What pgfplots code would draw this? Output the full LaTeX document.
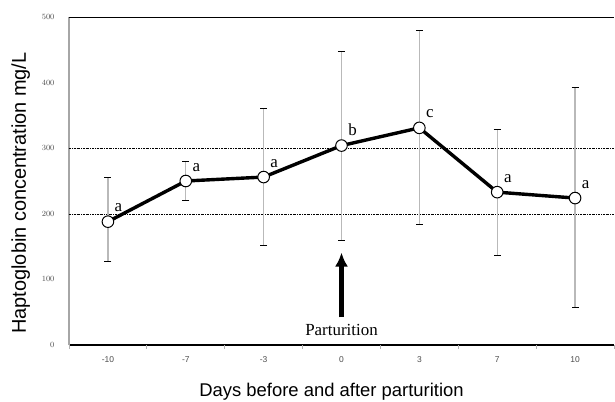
\documentclass[border=0pt]{standalone}
\usepackage{pgfplots}
\pgfplotsset{compat=1.18}
\usepackage{pgfplotstable}
\usetikzlibrary{arrows.meta}
\usepackage{fontspec}
\setmainfont{Liberation Serif}
\setsansfont{Liberation Sans}
\pgfplotstableread{
x y ep em lab
0 188 68 60 a
1 250 30 30 a
2 256 105 104 a
3 304 144 145 b
4 331 148 147 c
5 233 95 96 a
6 224 168 167 a
}\hapto
\begin{document}
\begin{tikzpicture}[x=1bp,y=1bp]
\useasboundingbox (-69bp,-57bp) rectangle (546bp,345bp);
\begin{axis}[
  at={(0,0)}, anchor=south west,
  scale only axis, width=545bp, height=328bp,
  xmin=-0.5, xmax=6.5, ymin=0, ymax=500,
  axis x line*=bottom, axis y line*=left,
  x axis line style={black, line width=1.8bp, -},
  y axis line style={gray!70, line width=1.5bp, -},
  xtick={0,...,6},
  xticklabels={-10,-7,-3,0,3,7,10},
  ytick={0,100,...,500},
  major tick length=0pt,
  tick label style={font=\sffamily\fontsize{8.5}{9}\selectfont, text=gray!60!black},
  xticklabel style={yshift=-8bp},
  yticklabel style={xshift=-11bp},
  extra x ticks={-0.5,0.5,1.5,2.5,3.5,4.5,5.5,6.5},
  extra x tick labels={},
  extra x tick style={major tick length=4bp, tick align=outside, tick style={gray!60, line width=0.8bp}},
  extra y ticks={200,300},
  extra y tick labels={},
  extra y tick style={grid=major, major grid style={black, line width=0.6bp, dash pattern=on 2bp off 1bp on 0.6bp off 1bp}},
  xlabel={\sffamily\fontsize{18.5}{20}\selectfont Days before and after parturition},
  ylabel={\sffamily\fontsize{20}{22}\selectfont Haptoglobin concentration mg/L},
  xlabel style={yshift=-10bp, xshift=-10bp},
  ylabel style={yshift=5bp, xshift=-12bp},
  clip=false,
]
\draw[black, line width=1bp] (axis cs:-0.5,500) -- (axis cs:6.5,500);
\draw[black, line width=0.6bp, dash pattern=on 2bp off 1bp on 0.6bp off 1bp] (axis cs:-0.5,200) -- ++(-7bp,0);
\draw[black, line width=0.6bp, dash pattern=on 2bp off 1bp on 0.6bp off 1bp] (axis cs:-0.5,300) -- ++(-7bp,0);
\addplot[draw=none, mark=none,
  error bars/.cd, y dir=both, y explicit,
  error bar style={gray!55, line width=1.4bp},
  error mark options={black, line width=0.8bp, rotate=90, mark size=3.5bp}]
  table[x=x, y=y, y error plus=ep, y error minus=em] {\hapto};
\addplot[black, line width=3.4bp, mark=*, mark size=5.8bp,
  mark options={fill=white, draw=black, line width=1bp},
  nodes near coords, point meta=explicit symbolic,
  every node near coord/.style={font=\fontsize{17}{18}\selectfont, anchor=south west, xshift=3bp, yshift=6bp, text=black}]
  table[x=x, y=y, meta=lab] {\hapto};
\draw[-{Latex[length=14bp,width=13bp]}, line width=4.5bp] (axis cs:3,42) -- (axis cs:3,141);
\node[font=\fontsize{17}{18}\selectfont] at (axis cs:3,23) {Parturition};
\end{axis}
\end{tikzpicture}
\end{document}
